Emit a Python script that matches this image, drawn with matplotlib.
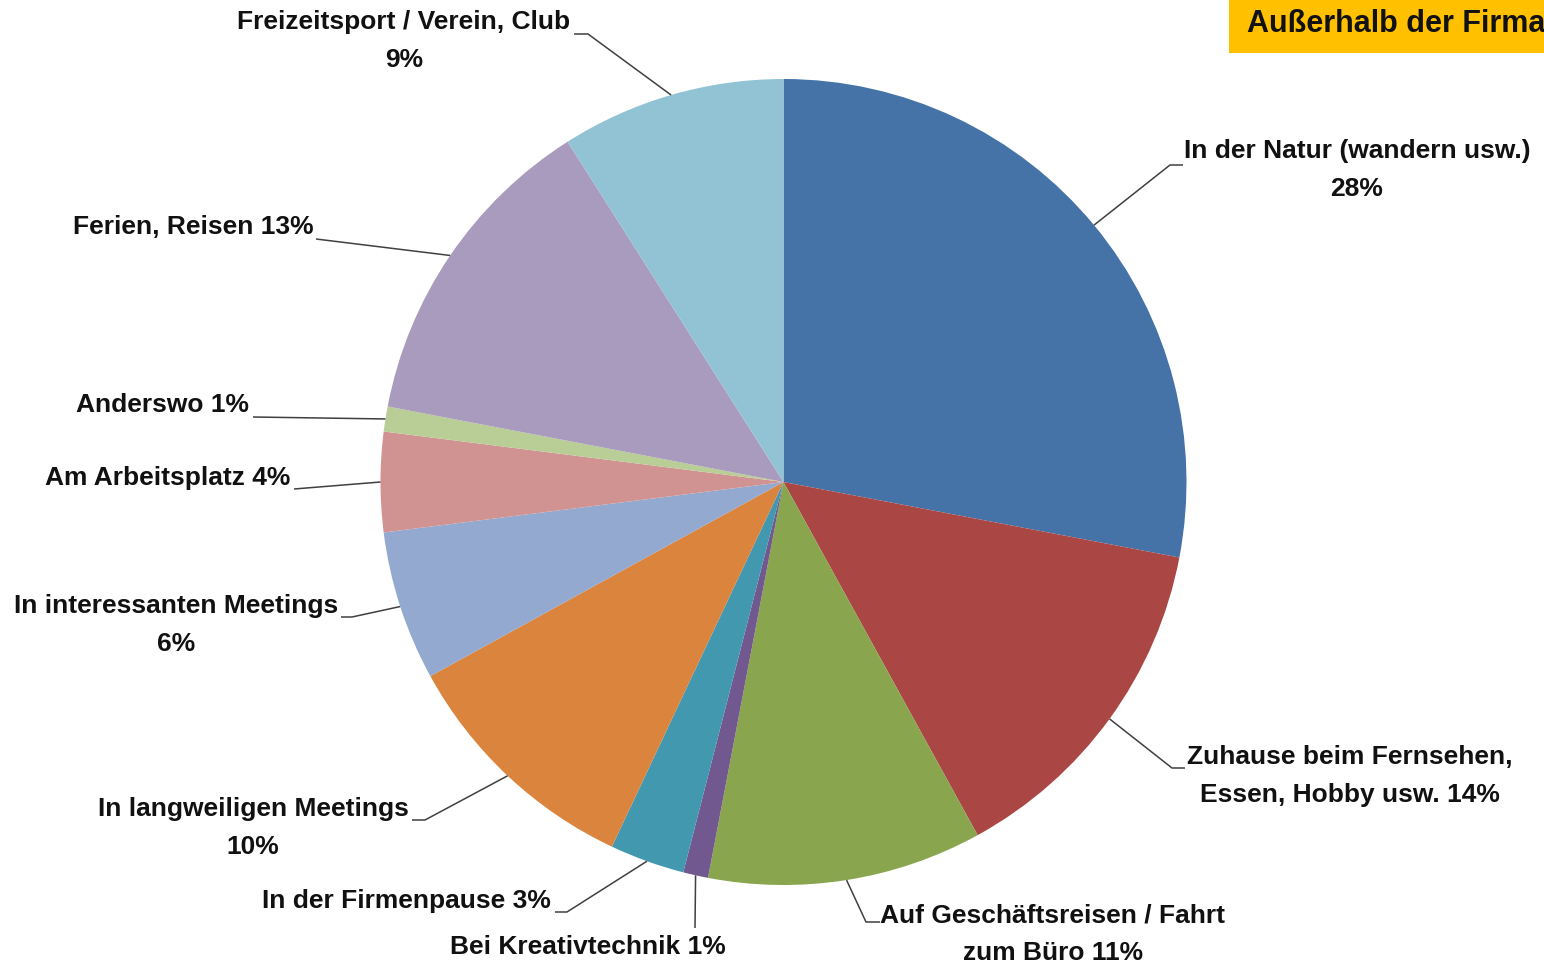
import numpy as np
import matplotlib.pyplot as plt
from matplotlib import font_manager

# data
labels = ["In der Natur (wandern usw.)\n28%",
          "Zuhause beim Fernsehen,\nEssen, Hobby usw. 14%",
          "Auf Geschäftsreisen / Fahrt\nzum Büro 11%",
          "Bei Kreativtechnik 1%",
          "In der Firmenpause 3%",
          "In langweiligen Meetings\n10%",
          "In interessanten Meetings\n6%",
          "Am Arbeitsplatz 4%",
          "Anderswo 1%",
          "Ferien, Reisen 13%",
          "Freizeitsport / Verein, Club\n9%"]
values = [28, 14, 11, 1, 3, 10, 6, 4, 1, 13, 9]
colors = ["#4572A7", "#AA4643", "#89A54E", "#71588F", "#4198AF", "#DB843D",
          "#93A9CF", "#D19392", "#B9CD96", "#A99BBD", "#92C3D4"]
title = "Außerhalb der Firma"

W, H = 1544, 967
names = [f.name for f in font_manager.fontManager.ttflist]
narrow = "Liberation Sans Narrow" if "Liberation Sans Narrow" in names else "Liberation Sans"

# label layout in pixel coords (from top-left): text centre, elbow, line end
text_pos = [(1357, 170), (1350, 776), (1053, 934), (588, 947), (406, 901),
            (253, 828), (176, 625), (168, 478), (162, 405), (193, 227), (404, 41)]
elbows = [(1170, 165), (1172, 768), (866, 922), (695, 928), (567, 912),
          (425, 820), (352, 617), (294, 489), (253, 417), (316, 239), (588, 34)]
ends = [(1183, 165), (1185, 768), (880, 922), (695, 928), (555, 912),
        (412, 820), (341, 617), (294, 489), (253, 417), (316, 239), (574, 34)]

fig = plt.figure(figsize=(W / 100, H / 100), dpi=100)
ax = fig.add_axes([0, 0, 1, 1])

cx, cy, r = 783.5, H - 482, 403
wedges, _ = ax.pie(values, colors=colors, startangle=90, counterclock=False,
                   center=(cx, cy), radius=r, wedgeprops=dict(linewidth=0), frame=True)
ax.set_xlim(0, W)
ax.set_ylim(0, H)
ax.set_aspect("equal")
ax.axis("off")

for w, lab, tp, el, en in zip(wedges, labels, text_pos, elbows, ends):
    a = np.deg2rad((w.theta1 + w.theta2) / 2)
    px, py = cx + r * np.cos(a), cy + r * np.sin(a)
    ax.plot([px, el[0], en[0]], [py, H - el[1], H - en[1]],
            color="#404040", lw=1.1, solid_capstyle="butt")
    ax.text(tp[0], H - tp[1], lab, ha="center", va="center", multialignment="center",
            fontsize=19, fontweight="bold", family=narrow, color="#111111",
            linespacing=1.7)

ax.add_patch(plt.Rectangle((1229, H - 53), 400, 53, color="#FFC000", lw=0, clip_on=False))
ax.text(1247, H - 24, title, ha="left", va="center", fontsize=22, fontweight="bold",
        family="Liberation Sans", color="#111111")

fig.savefig("out.png", dpi=100)
